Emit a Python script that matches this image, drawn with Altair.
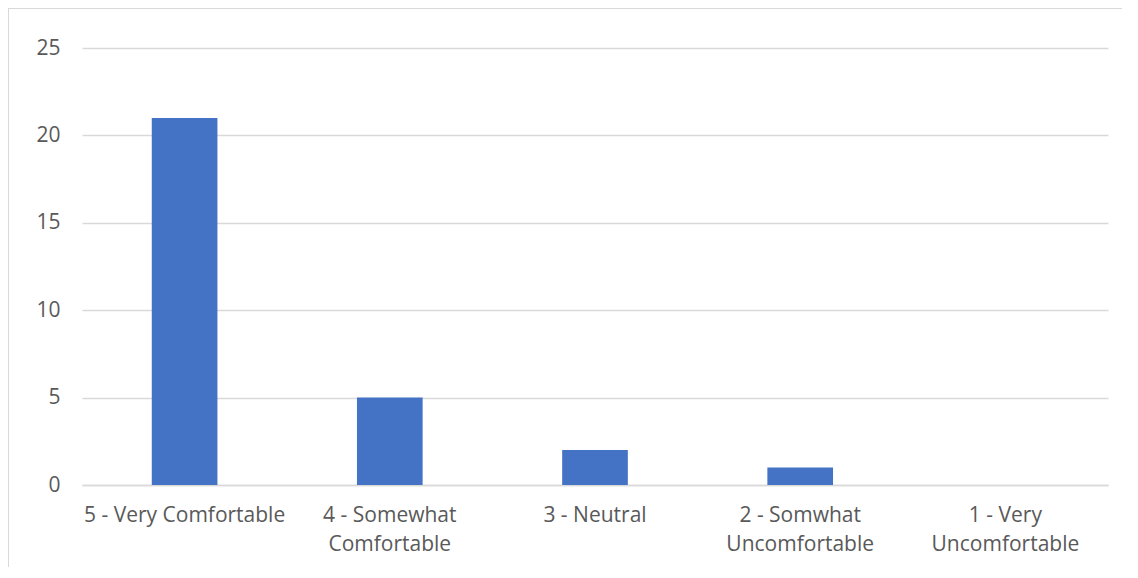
import altair as alt
import pandas as pd

categories = ["5 - Very Comfortable", "4 - Somewhat|Comfortable", "3 - Neutral",
              "2 - Somwhat|Uncomfortable", "1 - Very|Uncomfortable"]
counts = [21, 5, 2, 1, 0]
y_ticks = [0, 5, 10, 15, 20, 25]

df = pd.DataFrame({"category": categories, "count": counts})

FONT = "Open Sans"

bars = alt.Chart(df).mark_bar(color="#4472C4").encode(
    x=alt.X("category:N", sort=categories,
            scale=alt.Scale(paddingInner=0.68, paddingOuter=0.34),
            axis=alt.Axis(title=None, labelAngle=0, labelExpr="split(datum.value, '|')",
                          labelFont=FONT, labelFontSize=21, labelColor="#595959",
                          labelLineHeight=29, labelPadding=19, ticks=False, labelLimit=0,
                          domainColor="#d9d9d9", domainWidth=1.5, labelBaseline="top")),
    y=alt.Y("count:Q", scale=alt.Scale(domain=[0, 25], nice=False),
            axis=alt.Axis(title=None, values=y_ticks, labelFont=FONT, labelFontSize=21,
                          labelColor="#595959", labelPadding=22, ticks=False, domain=False,
                          gridColor="#d9d9d9", gridWidth=1.5)),
)

border_left = alt.Chart(df).mark_rule(color="#d9d9d9", strokeWidth=1).encode(
    x=alt.value(-73.5), y=alt.value(-40), y2=alt.value(600))
border_top = alt.Chart(df).mark_rule(color="#d9d9d9", strokeWidth=1).encode(
    x=alt.value(-74), x2=alt.value(1200), y=alt.value(-39.5))

chart = alt.layer(bars, border_left, border_top).properties(
    width=1026, height=437,
    background="white",
    autosize=alt.AutoSizeParams(type="none"),
    padding={"left": 74, "top": 40, "right": 14, "bottom": 82},
).configure_view(stroke=None)

chart.save("out.html", embed_options={"renderer": "svg", "actions": False})
